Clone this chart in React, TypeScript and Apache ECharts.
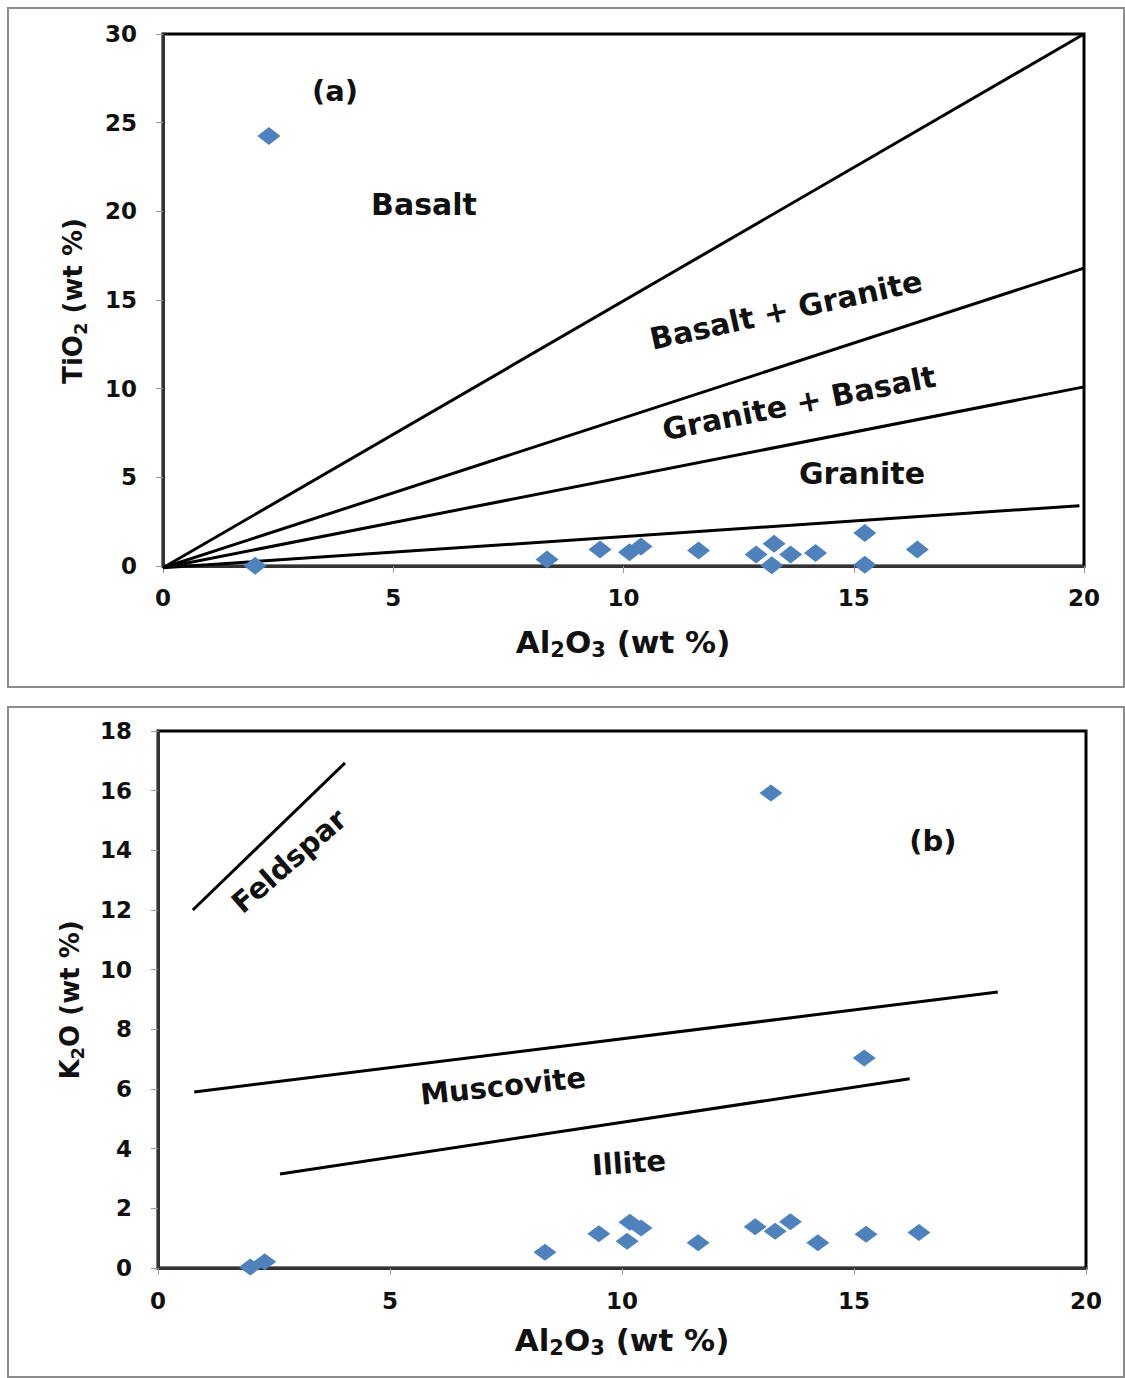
import React, { useEffect, useRef } from "react";
import * as echarts from "echarts";

// ---- Data ----
// Panel (a): TiO2 vs Al2O3
const tiAl: number[] = [2.3, 2.0, 8.34, 9.49, 10.13, 10.38, 11.63, 12.88, 13.27, 13.22, 13.63, 14.17, 15.24, 15.24, 16.38];
const tiTi: number[] = [24.25, 0.02, 0.37, 0.93, 0.78, 1.1, 0.88, 0.65, 1.25, 0.04, 0.65, 0.73, 1.86, 0.07, 0.93];
// boundary lines (a)
const lineBasalt: number[][] = [[0, -0.1], [20, 30]];
const lineBG: number[][] = [[0, -0.1], [20, 16.8]];
const lineGB: number[][] = [[0, -0.1], [20, 10.1]];
const lineGranite: number[][] = [[0, -0.1], [19.9, 3.4]];

// Panel (b): K2O vs Al2O3
const kAl: number[] = [1.99, 2.3, 8.34, 9.5, 10.17, 10.41, 10.11, 11.64, 12.87, 13.3, 13.63, 14.22, 15.26, 16.4, 13.21, 15.22];
const kK: number[] = [0.03, 0.21, 0.53, 1.15, 1.53, 1.34, 0.9, 0.85, 1.38, 1.23, 1.55, 0.85, 1.13, 1.19, 15.92, 7.04];
const lineFeldspar: number[][] = [[0.75, 12.0], [4.03, 16.93]];
const lineMuscovite: number[][] = [[0.78, 5.9], [18.1, 9.25]];
const lineIllite: number[][] = [[2.63, 3.15], [16.2, 6.34]];

// axis ranges / ticks
const xTicksA = { min: 0, max: 20, interval: 5 };
const yTicksA = { min: 0, max: 30, interval: 5 };
const xTicksB = { min: 0, max: 20, interval: 5 };
const yTicksB = { min: 0, max: 18, interval: 2 };

const FONT = '"DejaVu Sans", sans-serif';
const MARK = "#4F81BD";

function axisCommon(margin: number) {
  return {
    type: "value" as const,
    axisLine: { show: true, onZero: false, lineStyle: { color: "#333", width: 3 } },
    axisTick: { show: true, length: 7, lineStyle: { color: "#999", width: 1 } },
    splitLine: { show: false },
    axisLabel: { margin, color: "#111", fontSize: 23, fontWeight: "bold" as const, fontFamily: FONT },
  };
}

function lineSeries(data: number[][], xi: number, w: number) {
  return {
    type: "line",
    xAxisIndex: xi,
    yAxisIndex: xi,
    data,
    symbol: "none",
    clip: false,
    lineStyle: { color: "#000", width: w },
    z: 2,
    silent: true,
  };
}

function label(text: string, x: number, y: number, size: number, rotDeg = 0) {
  return {
    type: "text",
    x,
    y,
    rotation: (rotDeg * Math.PI) / 180,
    z: 10,
    style: {
      text,
      fontSize: size,
      fontWeight: "bold",
      fontFamily: FONT,
      fill: "#111",
      align: "center",
      verticalAlign: "middle",
    },
  };
}

function subTitle(text: string, x: number, y: number, size: number, rotDeg = 0) {
  return {
    type: "text",
    x,
    y,
    rotation: (rotDeg * Math.PI) / 180,
    z: 10,
    style: {
      text,
      fontSize: size,
      fontWeight: "bold",
      fontFamily: FONT,
      fill: "#111",
      align: "center",
      verticalAlign: "middle",
      lineHeight: size + 6,
      rich: {
        s: {
          fontSize: Math.round(size * 0.68),
          fontWeight: "bold",
          fontFamily: FONT,
          fill: "#111",
          lineHeight: Math.round(size * 0.5),
          verticalAlign: "bottom",
        },
      },
    },
  };
}

export default function App() {
  const ref = useRef<HTMLDivElement>(null);
  useEffect(() => {
    if (!ref.current) return;
    const chart = echarts.init(ref.current, undefined, { renderer: "svg" });
    const option = {
      animation: false,
      backgroundColor: "#fff",
      grid: [
        { left: 163, top: 34, width: 921, height: 532, show: true, borderColor: "#000", borderWidth: 3, backgroundColor: "transparent" },
        { left: 158, top: 731, width: 928, height: 537, show: true, borderColor: "#000", borderWidth: 3, backgroundColor: "transparent" },
      ],
      xAxis: [
        { ...axisCommon(20), gridIndex: 0, ...xTicksA },
        { ...axisCommon(21), gridIndex: 1, ...xTicksB },
      ],
      yAxis: [
        { ...axisCommon(26), gridIndex: 0, ...yTicksA },
        { ...axisCommon(26), gridIndex: 1, ...yTicksB },
      ],
      series: [
        lineSeries(lineBasalt, 0, 3),
        lineSeries(lineBG, 0, 3),
        lineSeries(lineGB, 0, 3),
        lineSeries(lineGranite, 0, 3),
        {
          type: "scatter",
          xAxisIndex: 0,
          yAxisIndex: 0,
          data: tiAl.map((x, i) => [x, tiTi[i]]),
          symbol: "diamond",
          symbolSize: [23, 18],
          itemStyle: { color: MARK, opacity: 1 },
          z: 3,
        },
        lineSeries(lineFeldspar, 1, 3),
        lineSeries(lineMuscovite, 1, 3),
        lineSeries(lineIllite, 1, 3),
        {
          type: "scatter",
          xAxisIndex: 1,
          yAxisIndex: 1,
          data: kAl.map((x, i) => [x, kK[i]]),
          symbol: "diamond",
          symbolSize: [23, 17],
          itemStyle: { color: MARK, opacity: 1 },
          z: 3,
        },
      ],
      graphic: [
        { type: "rect", shape: { x: 8, y: 8, width: 1116, height: 679 }, style: { fill: "none", stroke: "#8c8c8c", lineWidth: 2 }, z: 0 },
        { type: "rect", shape: { x: 8, y: 707, width: 1116, height: 670 }, style: { fill: "none", stroke: "#8c8c8c", lineWidth: 2 }, z: 0 },
        label("(a)", 335, 91, 29),
        label("Basalt", 424, 204, 30),
        label("Basalt + Granite", 786, 310, 30, 12.3),
        label("Granite + Basalt", 799, 403, 30, 11.3),
        label("Granite", 862, 473, 30),
        subTitle("TiO{s|2} (wt %)", 73, 301, 26, 90),
        subTitle("Al{s|2}O{s|3} (wt %)", 623, 642, 31),
        label("Feldspar", 289, 861, 29, 41),
        label("(b)", 933, 841, 29),
        label("Muscovite", 503, 1086, 29, 6),
        label("Illite", 629, 1163, 29, 4),
        subTitle("K{s|2}O (wt %)", 70, 1000, 26, 90),
        subTitle("Al{s|2}O{s|3} (wt %)", 622, 1340, 31),
      ],
    };
    chart.setOption(option as any);
    return () => chart.dispose();
  }, []);
  return (
    <div
      ref={ref}
      style={{ position: "absolute", left: 0, top: 0, width: 1125, height: 1378, background: "#fff" }}
    />
  );
}
